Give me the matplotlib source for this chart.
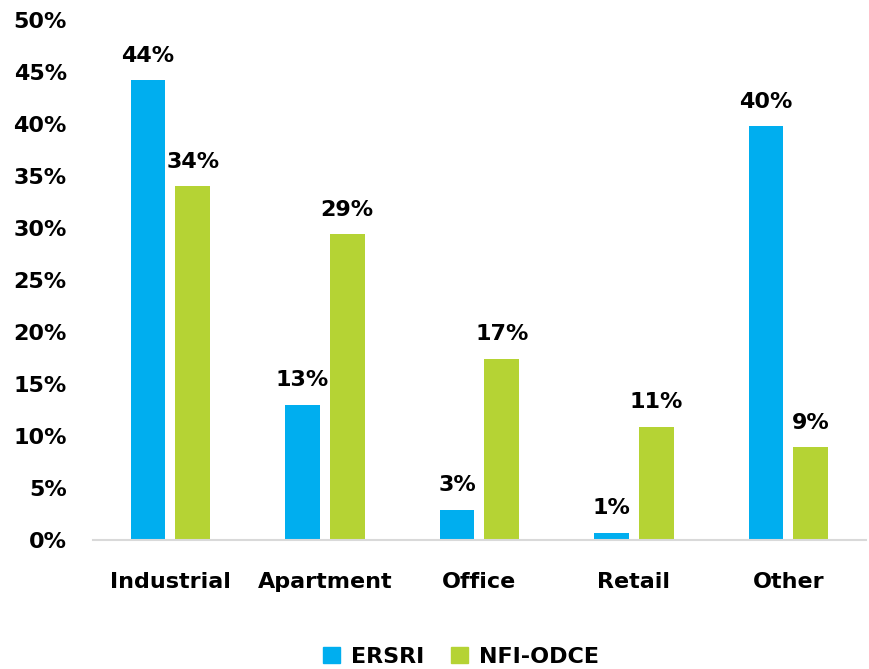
import matplotlib
matplotlib.use("Agg")
import matplotlib.pyplot as plt
from matplotlib.patches import Patch
import numpy as np

categories = ["Industrial", "Apartment", "Office", "Retail", "Other"]
ersri = [44.2, 13.0, 2.9, 0.7, 39.8]
nfi_odce = [34.0, 29.4, 17.4, 10.9, 8.9]
series_names = ["ERSRI", "NFI-ODCE"]
y_ticks = [0, 5, 10, 15, 20, 25, 30, 35, 40, 45, 50]

blue = "#00AEEF"
green = "#B5D334"
FS = 16

plt.rcParams["font.family"] = ["DejaVu Sans"]

fig = plt.figure(figsize=(8.7, 6.69), dpi=100)
ax = fig.add_axes([0.107, 0.193, 0.888, 0.777])

x = np.arange(len(categories))
w = 0.225
off = 0.145
b1 = ax.bar(x - off, ersri, width=w, color=blue)
b2 = ax.bar(x + off, nfi_odce, width=w, color=green)

for bars, vals in ((b1, ersri), (b2, nfi_odce)):
    for rect, v in zip(bars, vals):
        ax.text(rect.get_x() + rect.get_width() / 2, v + 1.4, f"{v:.0f}%",
                ha="center", va="bottom", fontsize=FS, fontweight="bold")

ax.set_xlim(-0.5, len(categories) - 0.5)
ax.set_ylim(0, 50)
ax.set_yticks(y_ticks)
ax.set_yticklabels([f"{t}%" for t in y_ticks])
ax.set_xticks(x)
ax.set_xticklabels(categories)
for lbl in ax.get_xticklabels() + ax.get_yticklabels():
    lbl.set_fontsize(FS)
    lbl.set_fontweight("bold")
ax.tick_params(axis="both", length=0)
ax.tick_params(axis="x", pad=23)
ax.tick_params(axis="y", pad=19)

for s in ("top", "right", "left"):
    ax.spines[s].set_visible(False)
ax.spines["bottom"].set_color("#D9D9D9")
ax.spines["bottom"].set_linewidth(1.5)

handles = [Patch(color=blue), Patch(color=green)]
fig.legend(handles, series_names, loc="lower center", ncol=2,
           bbox_to_anchor=(0.530, -0.027), frameon=False,
           prop={"size": FS, "weight": "bold"},
           handlelength=0.75, handleheight=0.75, handletextpad=0.5,
           columnspacing=1.2)

fig.savefig("out.png", dpi=100)
